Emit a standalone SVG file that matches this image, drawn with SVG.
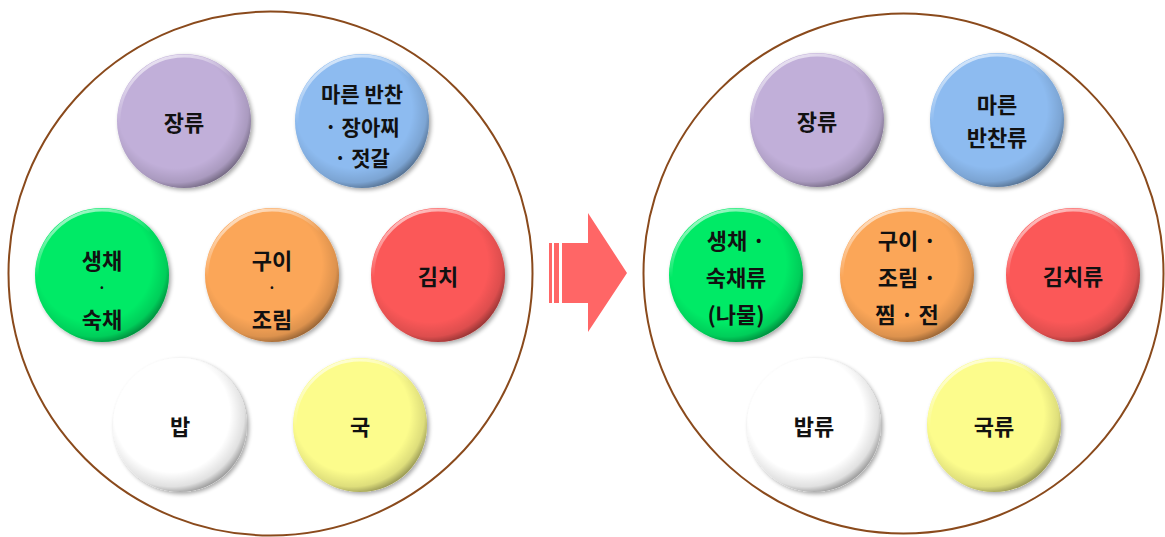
<svg xmlns="http://www.w3.org/2000/svg" width="1165" height="537" viewBox="0 0 1165 537">
<defs>
<style>
.outer{fill:#fff;stroke:#8a4a1c;stroke-width:2}
.t{font-family:"Noto Sans CJK KR","Noto Sans",sans-serif;font-weight:bold;font-size:22px;fill:#111;text-anchor:middle;dominant-baseline:central}
.dot{font-size:14px}
.shade{fill:url(#rim)}
.hl{fill:none;stroke:url(#hlg);stroke-width:3}
</style>
<radialGradient id="rim" cx="0.44" cy="0.42" r="0.6">
<stop offset="0.72" stop-color="#000" stop-opacity="0"/>
<stop offset="0.9" stop-color="#000" stop-opacity="0.12"/>
<stop offset="1" stop-color="#000" stop-opacity="0.4"/>
</radialGradient>
<linearGradient id="hlg" x1="0" y1="0" x2="0.4" y2="1">
<stop offset="0" stop-color="#fff" stop-opacity="0.85"/>
<stop offset="0.45" stop-color="#fff" stop-opacity="0"/>
</linearGradient>
<filter id="sh" x="-20%" y="-20%" width="140%" height="140%">
<feGaussianBlur in="SourceAlpha" stdDeviation="2"/>
<feOffset dx="1.5" dy="2" result="b"/>
<feComponentTransfer><feFuncA type="linear" slope="0.35"/></feComponentTransfer>
<feMerge><feMergeNode/><feMergeNode in="SourceGraphic"/></feMerge>
</filter>
<g id="ball">
<circle r="67" class="shade"/>
<circle r="65" class="hl"/>
</g>
</defs>
<rect width="1165" height="537" fill="#fff"/>

<g id="left-plate">
<circle class="outer" cx="270.5" cy="273.5" r="262"/>
</g>
<g id="right-plate">
<circle class="outer" cx="903.5" cy="273.5" r="260"/>
</g>

<g id="connectors">
<g id="arrow" fill="#ff6666">
<rect x="549" y="243" width="3" height="60"/>
<rect x="554" y="243" width="5" height="60"/>
<polygon points="562,243 588,243 588,213 627,273 588,332 588,303 562,303"/>
</g>
</g>

<!-- left nodes -->
<g id="L-jang" transform="translate(184,121)">
<circle r="67" fill="#c1afd9" filter="url(#sh)"/><use href="#ball"/>
<text class="t" y="0">장류</text>
</g>
<g id="L-maren" transform="translate(362,121)">
<circle r="67" fill="#8dbbf0" filter="url(#sh)"/><use href="#ball"/>
<text class="t" y="-28" style="font-size:21px">마른 반찬</text>
<text class="t" y="5" style="font-size:21px">· 장아찌</text>
<text class="t" y="36" style="font-size:21px">· 젓갈</text>
</g>
<g id="L-saengchae" transform="translate(102,275)">
<circle r="67" fill="#06ea66" filter="url(#sh)"/><use href="#ball"/>
<text class="t" y="-16">생채</text>
<text class="t dot" y="12">·</text>
<text class="t" y="43">숙채</text>
</g>
<g id="L-gui" transform="translate(272,275)">
<circle r="67" fill="#fba659" filter="url(#sh)"/><use href="#ball"/>
<text class="t" y="-16">구이</text>
<text class="t dot" y="12">·</text>
<text class="t" y="43">조림</text>
</g>
<g id="L-kimchi" transform="translate(438,275)">
<circle r="67" fill="#fb5959" filter="url(#sh)"/><use href="#ball"/>
<text class="t" y="0">김치</text>
</g>
<g id="L-bap" transform="translate(180,425)">
<circle r="67" fill="#ffffff" filter="url(#sh)"/><use href="#ball"/>
<text class="t" y="0">밥</text>
</g>
<g id="L-guk" transform="translate(360,425)">
<circle r="67" fill="#fcfc8c" filter="url(#sh)"/><use href="#ball"/>
<text class="t" y="0">국</text>
</g>

<!-- right nodes -->
<g id="R-jang" transform="translate(817,120)">
<circle r="67" fill="#c1afd9" filter="url(#sh)"/><use href="#ball"/>
<text class="t" y="0">장류</text>
</g>
<g id="R-maren" transform="translate(997,120)">
<circle r="67" fill="#8dbbf0" filter="url(#sh)"/><use href="#ball"/>
<text class="t" y="-17">마른</text>
<text class="t" y="16">반찬류</text>
</g>
<g id="R-saengchae" transform="translate(736,275)">
<circle r="67" fill="#06ea66" filter="url(#sh)"/><use href="#ball"/>
<text class="t" y="-36">생채 ·</text>
<text class="t" y="1">숙채류</text>
<text class="t" y="38">(나물)</text>
</g>
<g id="R-gui" transform="translate(907,275)">
<circle r="67" fill="#fba659" filter="url(#sh)"/><use href="#ball"/>
<text class="t" y="-36">구이 ·</text>
<text class="t" y="1">조림 ·</text>
<text class="t" y="38">찜 · 전</text>
</g>
<g id="R-kimchi" transform="translate(1073,275)">
<circle r="67" fill="#fb5959" filter="url(#sh)"/><use href="#ball"/>
<text class="t" y="0">김치류</text>
</g>
<g id="R-bap" transform="translate(814,425)">
<circle r="67" fill="#ffffff" filter="url(#sh)"/><use href="#ball"/>
<text class="t" y="0">밥류</text>
</g>
<g id="R-guk" transform="translate(994,425)">
<circle r="67" fill="#fcfc8c" filter="url(#sh)"/><use href="#ball"/>
<text class="t" y="0">국류</text>
</g>
</svg>
